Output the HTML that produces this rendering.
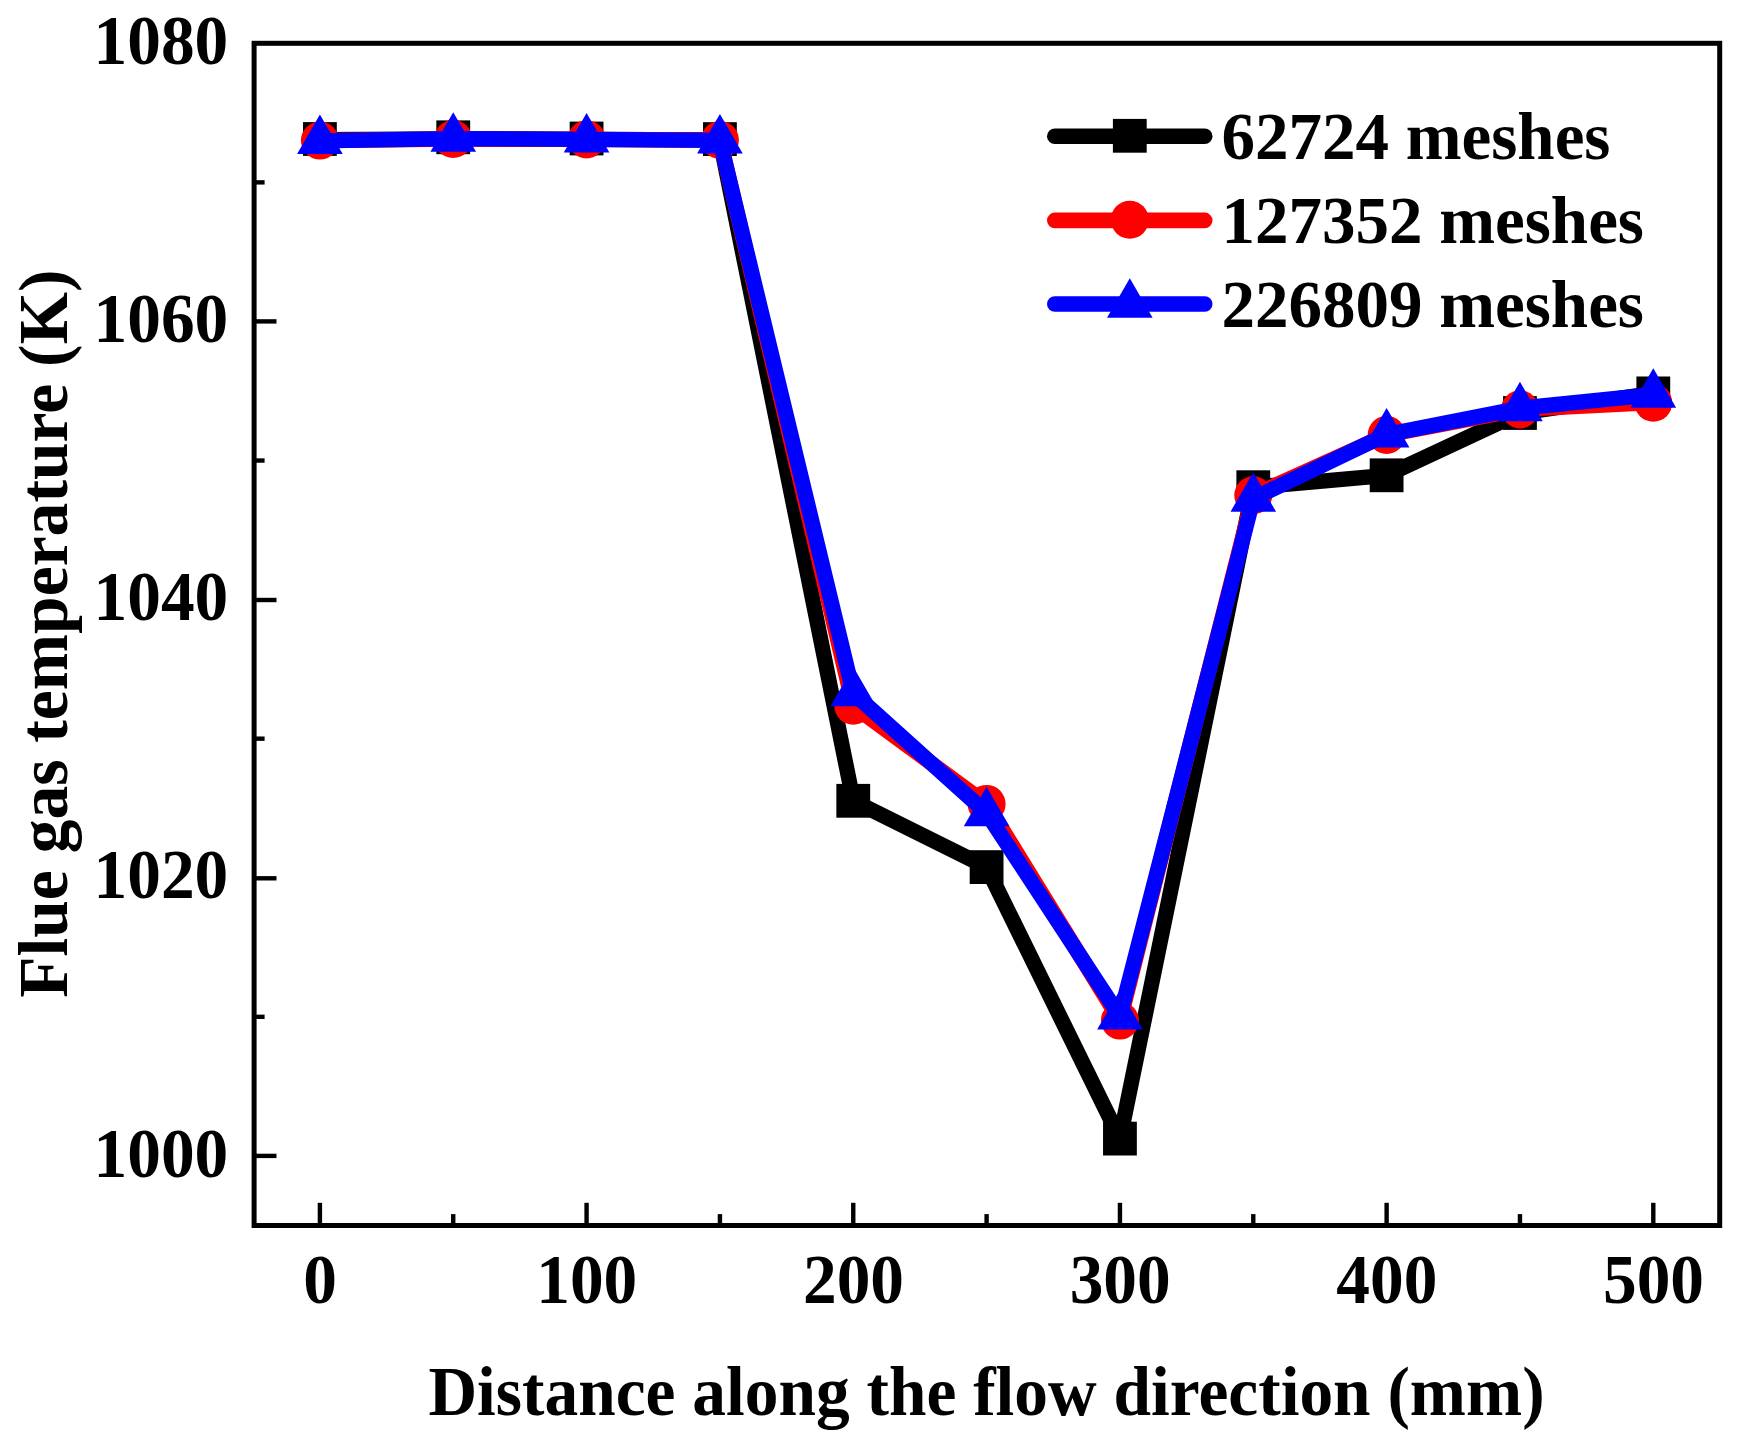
<!DOCTYPE html>
<html lang="en"><head><meta charset="utf-8"><title>Flue gas temperature</title>
<style>
html,body{margin:0;padding:0;background:#fff;}
body{width:1738px;height:1449px;overflow:hidden;}
svg{display:block;}
text{font-family:"Liberation Serif",serif;font-weight:bold;fill:#000;}
</style></head><body>
<svg width="1738" height="1449" viewBox="0 0 1738 1449">
<rect x="0" y="0" width="1738" height="1449" fill="#fff"/>
<g stroke="#000" stroke-width="4.4" fill="none">
<line x1="319.9" y1="1225.5" x2="319.9" y2="1202.8"/>
<line x1="586.58" y1="1225.5" x2="586.58" y2="1202.8"/>
<line x1="853.26" y1="1225.5" x2="853.26" y2="1202.8"/>
<line x1="1119.94" y1="1225.5" x2="1119.94" y2="1202.8"/>
<line x1="1386.62" y1="1225.5" x2="1386.62" y2="1202.8"/>
<line x1="1653.3" y1="1225.5" x2="1653.3" y2="1202.8"/>
<line x1="453.24" y1="1225.5" x2="453.24" y2="1214.1"/>
<line x1="719.92" y1="1225.5" x2="719.92" y2="1214.1"/>
<line x1="986.6" y1="1225.5" x2="986.6" y2="1214.1"/>
<line x1="1253.28" y1="1225.5" x2="1253.28" y2="1214.1"/>
<line x1="1519.96" y1="1225.5" x2="1519.96" y2="1214.1"/>
<line x1="254.1" y1="1155.9" x2="276.5" y2="1155.9"/>
<line x1="254.1" y1="878.3" x2="276.5" y2="878.3"/>
<line x1="254.1" y1="600" x2="276.5" y2="600"/>
<line x1="254.1" y1="321.4" x2="276.5" y2="321.4"/>
<line x1="254.1" y1="1016.83" x2="264.6" y2="1016.83"/>
<line x1="254.1" y1="738.67" x2="264.6" y2="738.67"/>
<line x1="254.1" y1="460.53" x2="264.6" y2="460.53"/>
<line x1="254.1" y1="182.38" x2="264.6" y2="182.38"/>
</g>
<rect x="254.1" y="43.3" width="1465.6" height="1182.2" fill="none" stroke="#000" stroke-width="5"/>
<g fill="none" stroke-width="15.3" stroke-linejoin="round" stroke-linecap="butt">
<polyline stroke="#000" points="319.9,139.6 453.24,138.8 586.58,139.3 719.92,139.9 853.26,800.8 986.6,867.1 1119.94,1138.6 1253.28,487.2 1386.62,475.3 1519.96,413 1653.3,393.4"/>
</g>
<g fill="#000">
<rect x="303" y="122.1" width="33.8" height="33.8"/>
<rect x="436.34" y="120.4" width="33.8" height="33.8"/>
<rect x="569.68" y="121.6" width="33.8" height="33.8"/>
<rect x="703.02" y="122.2" width="33.8" height="33.8"/>
<rect x="836.36" y="783.9" width="33.8" height="33.8"/>
<rect x="969.7" y="850.2" width="33.8" height="33.8"/>
<rect x="1103.04" y="1121.7" width="33.8" height="33.8"/>
<rect x="1236.38" y="470.3" width="33.8" height="33.8"/>
<rect x="1369.72" y="458.4" width="33.8" height="33.8"/>
<rect x="1503.06" y="396.1" width="33.8" height="33.8"/>
<rect x="1636.4" y="376.5" width="33.8" height="33.8"/>
</g>
<polyline fill="none" stroke="#f00" stroke-width="15.3" stroke-linejoin="round" points="319.9,140.6 453.24,139 586.58,139.4 719.92,140 853.26,705.8 986.6,803.9 1119.94,1020.6 1253.28,495.3 1386.62,434.9 1519.96,409.4 1653.3,402.7"/>
<g fill="#f00">
<circle cx="319.9" cy="140.6" r="19"/>
<circle cx="453.24" cy="139" r="19"/>
<circle cx="586.58" cy="139.4" r="19"/>
<circle cx="719.92" cy="140" r="19"/>
<circle cx="853.26" cy="705.8" r="19"/>
<circle cx="986.6" cy="803.9" r="19"/>
<circle cx="1119.94" cy="1020.6" r="19"/>
<circle cx="1253.28" cy="495.3" r="19"/>
<circle cx="1386.62" cy="434.9" r="19"/>
<circle cx="1519.96" cy="409.4" r="19"/>
<circle cx="1653.3" cy="402.7" r="19"/>
</g>
<polyline fill="none" stroke="#00f" stroke-width="15.3" stroke-linejoin="round" points="319.9,140.8 453.24,138.6 586.58,139.4 719.92,140.4 853.26,693 986.6,813 1119.94,1016.4 1253.28,498.6 1386.62,434.4 1519.96,408.2 1653.3,394.6"/>
<g fill="#00f">
<polygon points="319.9,114.47 342.7,153.96 297.1,153.96"/>
<polygon points="453.24,112.27 476.04,151.76 430.44,151.76"/>
<polygon points="586.58,113.07 609.38,152.56 563.78,152.56"/>
<polygon points="719.92,114.07 742.72,153.56 697.12,153.56"/>
<polygon points="853.26,666.67 876.06,706.16 830.46,706.16"/>
<polygon points="986.6,786.67 1009.4,826.16 963.8,826.16"/>
<polygon points="1119.94,990.07 1142.74,1029.56 1097.14,1029.56"/>
<polygon points="1253.28,472.27 1276.08,511.76 1230.48,511.76"/>
<polygon points="1386.62,408.07 1409.42,447.56 1363.82,447.56"/>
<polygon points="1519.96,381.87 1542.76,421.36 1497.16,421.36"/>
<polygon points="1653.3,368.27 1676.1,407.76 1630.5,407.76"/>
</g>
<g fill="none" stroke-width="15.6" stroke-linecap="round">
<line stroke="#000" x1="1054.8" y1="136.2" x2="1204.7" y2="136.2"/>
<line stroke="#f00" x1="1054.8" y1="220.4" x2="1204.7" y2="220.4"/>
<line stroke="#00f" x1="1054.8" y1="304" x2="1204.7" y2="304"/>
</g>
<rect fill="#000" x="1112.9" y="118.9" width="33.8" height="33.8"/>
<circle fill="#f00" cx="1129.8" cy="219.8" r="19"/>
<polygon fill="#00f" points="1129.8,278.27 1152.6,317.76 1107,317.76"/>
<g font-size="67">
<text x="1221.5" y="159">62724 meshes</text>
<text x="1221.5" y="242.8">127352 meshes</text>
<text x="1221.5" y="326.6">226809 meshes</text>
</g>
<g font-size="68" text-anchor="middle">
<text transform="translate(320.1,1302.9) scale(0.99,1.03)">0</text>
<text transform="translate(586.78,1302.9) scale(0.99,1.03)">100</text>
<text transform="translate(853.46,1302.9) scale(0.99,1.03)">200</text>
<text transform="translate(1120.14,1302.9) scale(0.99,1.03)">300</text>
<text transform="translate(1386.82,1302.9) scale(0.99,1.03)">400</text>
<text transform="translate(1653.5,1302.9) scale(0.99,1.03)">500</text>
</g>
<g font-size="68" text-anchor="end">
<text transform="translate(228.2,1176.6) scale(0.99,1.03)">1000</text>
<text transform="translate(228.2,898.45) scale(0.99,1.03)">1020</text>
<text transform="translate(228.2,620.3) scale(0.99,1.03)">1040</text>
<text transform="translate(228.2,342.15) scale(0.99,1.03)">1060</text>
<text transform="translate(228.2,64) scale(0.99,1.03)">1080</text>
</g>
<text font-size="67.4" text-anchor="middle" transform="translate(986.5,1414.6) scale(1,1.035)">Distance along the flow direction (mm)</text>
<text font-size="67.55" text-anchor="middle" transform="translate(67.2,633.6) rotate(-90) scale(1,1.035)">Flue gas temperature (K)</text>
</svg>
</body></html>
